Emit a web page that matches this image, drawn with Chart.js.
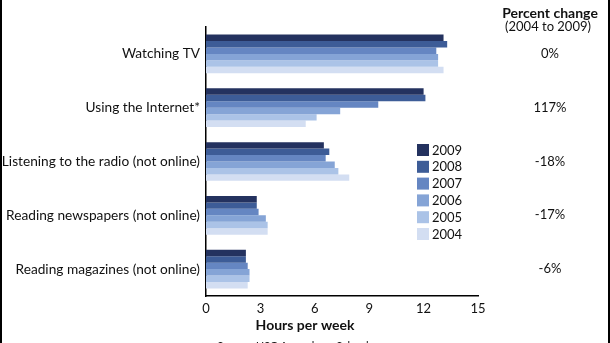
<!DOCTYPE html>
<html>
<head>
<meta charset="utf-8">
<script src="https://cdn.jsdelivr.net/npm/chart.js@4"></script>
<style>
  html, body { margin: 0; padding: 0; background: #fff; }
  #wrap { width: 610px; height: 343px; }
</style>
</head>
<body>
<div id="wrap"><canvas id="myChart" width="610" height="343"></canvas></div>
<script>
var categories = ['Watching TV', 'Using the Internet*', 'Listening to the radio (not online)',
                  'Reading newspapers (not online)', 'Reading magazines (not online)'];
var years = ['2009', '2008', '2007', '2006', '2005', '2004'];
var hours2009 = [13.1, 12.0, 6.5, 2.8, 2.2];
var hours2008 = [13.3, 12.1, 6.8, 2.8, 2.2];
var hours2007 = [12.7, 9.5, 6.6, 2.9, 2.3];
var hours2006 = [12.8, 7.4, 7.1, 3.3, 2.4];
var hours2005 = [12.8, 6.1, 7.3, 3.4, 2.4];
var hours2004 = [13.1, 5.5, 7.9, 3.4, 2.3];
var percentChange = ['0%', '117%', '-18%', '-17%', '-6%'];
var xTicks = [0, 3, 6, 9, 12, 15];

var colors = ['#24325f', '#3d5c97', '#6586c2', '#85a4d6', '#abc3e7', '#d3def2'];
var series = [hours2009, hours2008, hours2007, hours2006, hours2005, hours2004];

var FONT = 'Lato, "Open Sans", sans-serif';

// 右側の列、凡例、枠線を描く
var extras = {
    id: 'extras',
    afterDraw: function (chart) {
        var c = chart.ctx;
        var y = chart.scales.y;
        c.save();
        c.fillStyle = '#111';
        c.textAlign = 'center';
        c.textBaseline = 'middle';
        c.font = 'bold 14px ' + FONT;
        c.fillText('Percent change', 550, 13);
        c.font = '13px ' + FONT;
        c.fillText('(2004 to 2009)', 548, 27);
        percentChange.forEach(function (p, i) {
            c.fillText(p, 550, y.getPixelForValue(i));
        });
        c.font = 'bold 14px ' + FONT;
        c.fillText('Hours per week', 305, 325);
        c.font = '11px ' + FONT;
        c.fillText('Source: USC Annenberg School', 293, 346);

        // legend
        c.textAlign = 'left';
        c.font = '13px ' + FONT;
        years.forEach(function (yr, i) {
            var cy = 150 + i * 16.8;
            c.fillStyle = colors[i];
            c.fillRect(417, cy - 6, 12, 12);
            c.fillStyle = '#111';
            c.fillText(yr, 432, cy + 0.5);
        });

        // frame lines
        c.fillStyle = '#000';
        c.fillRect(0, 0, 2, 343);
        c.fillRect(608, 0, 2, 343);
        c.restore();
    }
};

var ctx = document.getElementById('myChart').getContext('2d');
var myChart = new Chart(ctx, {
    type: 'bar',
    data: {
        labels: categories,
        datasets: years.map(function (yr, i) {
            return {
                label: yr,
                data: series[i],
                backgroundColor: colors[i],
                borderWidth: 0,
                categoryPercentage: 0.72,
                barPercentage: 1.0
            };
        })
    },
    options: {
        indexAxis: 'y',
        responsive: false,
        animation: false,
        layout: { padding: { top: 27, right: 132, left: 0, bottom: 0 } },
        plugins: {
            legend: { display: false },
            tooltip: { enabled: false }
        },
        scales: {
            x: {
                min: 0,
                max: 15,
                afterFit: function (s) { s.height = 47; },
                afterBuildTicks: function (s) {
                    s.ticks = xTicks.map(function (v) { return { value: v }; });
                },
                grid: { display: false, drawTicks: false },
                border: { color: '#000', width: 1.5 },
                ticks: { padding: 5, color: '#111', font: { family: FONT, size: 13 } }
            },
            y: {
                afterFit: function (s) { s.width = 206; },
                grid: { display: false, drawTicks: false },
                border: { color: '#000', width: 1.5 },
                ticks: { padding: 6, color: '#111', font: { family: FONT, size: 13.7 } }
            }
        }
    },
    plugins: [extras]
});
</script>
</body>
</html>
